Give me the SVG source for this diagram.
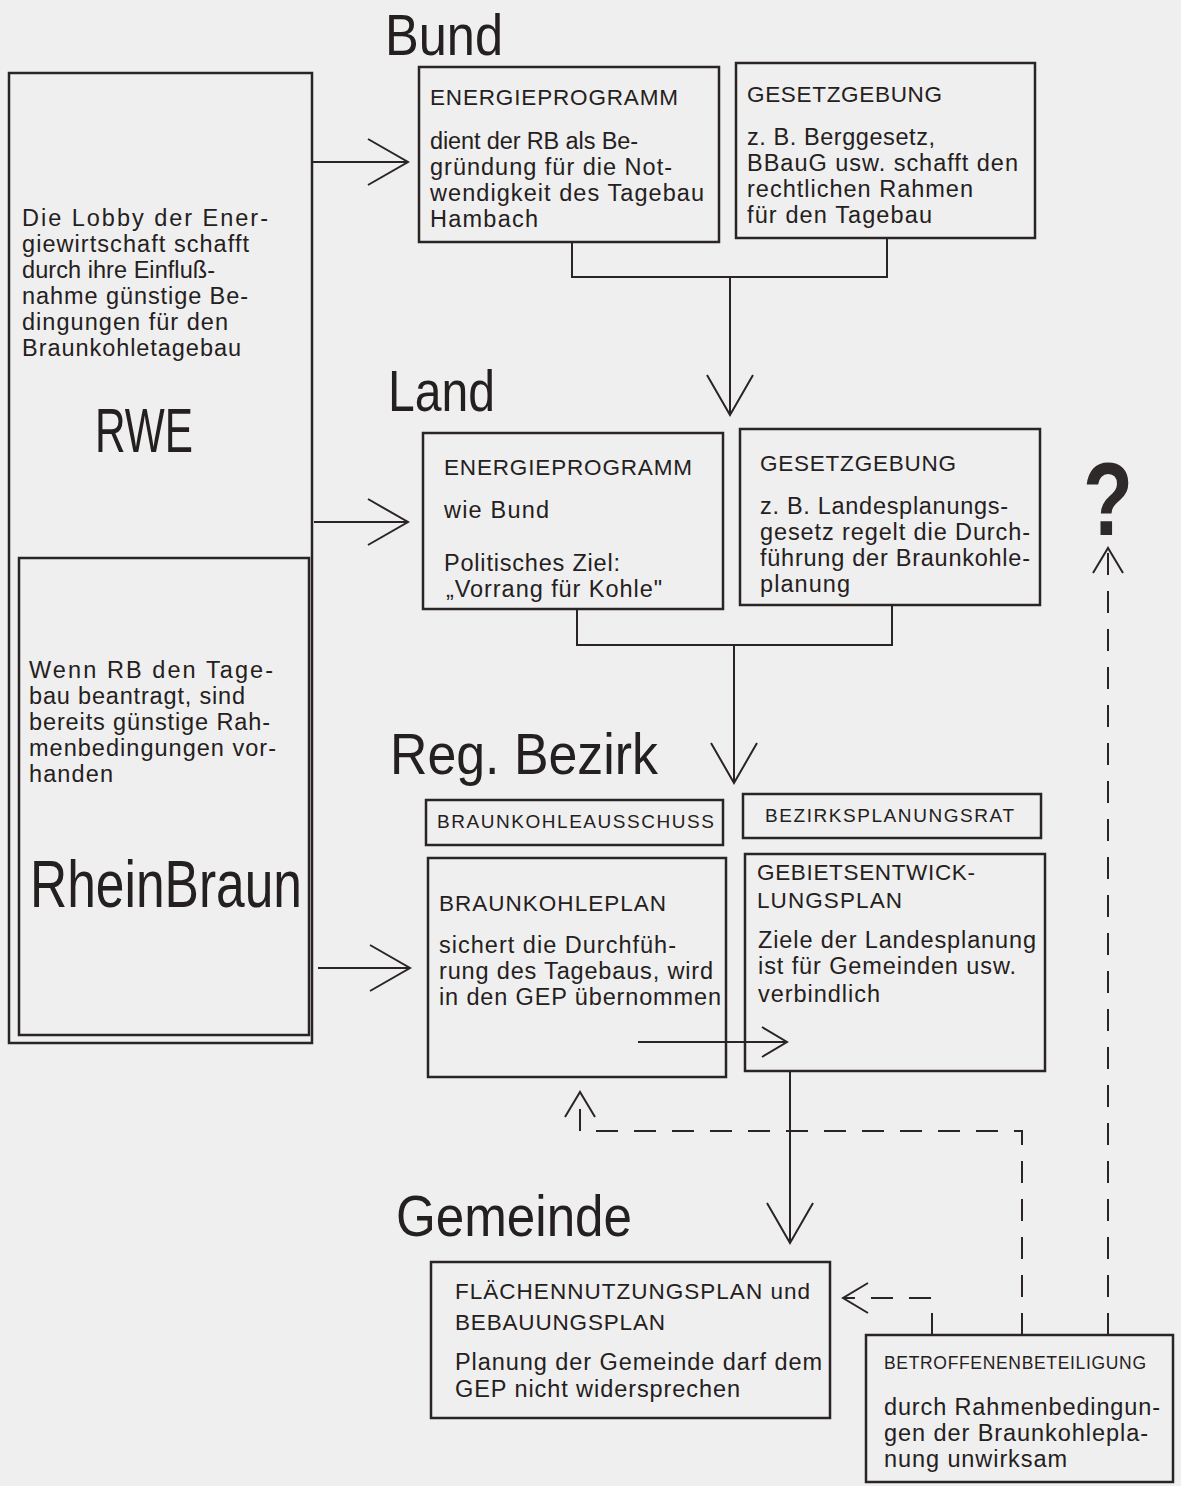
<svg xmlns="http://www.w3.org/2000/svg" width="1181" height="1486" viewBox="0 0 1181 1486">
<style>
.bg{fill:#efefef}
.bx{fill:none;stroke:#2b2424;stroke-width:2.5}
.ln{fill:none;stroke:#2b2424;stroke-width:2}
.dash{stroke-dasharray:22 16}
.t{font-family:"Liberation Sans",Arial,sans-serif;font-size:23.5px;fill:#252020}
.h{font-family:"Liberation Sans",Arial,sans-serif;font-size:22.5px;fill:#252020}
.hs{font-family:"Liberation Sans",Arial,sans-serif;font-size:19px;fill:#252020}
.s{font-family:"Liberation Sans",Arial,sans-serif;font-size:17.5px;fill:#252020}
.ti{font-family:"Liberation Sans",Arial,sans-serif;font-size:58px;fill:#252020}
.big{font-family:"Liberation Sans",Arial,sans-serif;fill:#252020}
.q{font-family:"Liberation Sans",Arial,sans-serif;font-weight:bold;font-size:104px;fill:#2e2a2a}
</style>
<defs>
<marker id="vb" markerUnits="userSpaceOnUse" orient="auto" viewBox="-42 -25 44 50" refX="0" refY="0" markerWidth="44" markerHeight="50">
<path d="M-40,-23 L0,0 L-40,23" fill="none" stroke="#2b2424" stroke-width="2"/>
</marker>
<marker id="vs" markerUnits="userSpaceOnUse" orient="auto" viewBox="-28 -17 30 34" refX="0" refY="0" markerWidth="30" markerHeight="34">
<path d="M-25,-15 L0,0 L-25,15" fill="none" stroke="#2b2424" stroke-width="2"/>
</marker>
</defs>
<rect class="bg" x="0" y="0" width="1181" height="1486"/>

<g id="titles">
<text class="ti" x="385" y="55" textLength="118" lengthAdjust="spacingAndGlyphs">Bund</text>
<text class="ti" x="388" y="411" textLength="107" lengthAdjust="spacingAndGlyphs">Land</text>
<text class="ti" x="390" y="774" textLength="268" lengthAdjust="spacingAndGlyphs">Reg. Bezirk</text>
<text class="ti" x="396" y="1236" textLength="236" lengthAdjust="spacingAndGlyphs">Gemeinde</text>
</g>

<g id="rwe">
<rect class="bx" x="9" y="73" width="303" height="970"/>
<text class="t" x="22" y="226" textLength="246">Die Lobby der Ener-</text>
<text class="t" x="22" y="252" textLength="227">giewirtschaft schafft</text>
<text class="t" x="22" y="278" textLength="193">durch ihre Einfluß-</text>
<text class="t" x="22" y="304" textLength="226">nahme günstige Be-</text>
<text class="t" x="22" y="330" textLength="206">dingungen für den</text>
<text class="t" x="22" y="356" textLength="219">Braunkohletagebau</text>
<text class="big" x="95" y="452" font-size="63" textLength="98" lengthAdjust="spacingAndGlyphs">RWE</text>
</g>

<g id="rheinbraun">
<rect class="bx" x="19" y="558" width="290" height="477"/>
<text class="t" x="29" y="678" textLength="244">Wenn RB den Tage-</text>
<text class="t" x="29" y="704" textLength="216">bau beantragt, sind</text>
<text class="t" x="29" y="730" textLength="241">bereits günstige Rah-</text>
<text class="t" x="29" y="756" textLength="247">menbedingungen vor-</text>
<text class="t" x="29" y="782" textLength="84">handen</text>
<text class="big" x="30" y="907" font-size="66" textLength="272" lengthAdjust="spacingAndGlyphs">RheinBraun</text>
</g>

<g id="bund-energie">
<rect class="bx" x="419" y="67" width="300" height="175"/>
<text class="h" x="430" y="105" textLength="248">ENERGIEPROGRAMM</text>
<text class="t" x="430" y="149" textLength="208">dient der RB als Be-</text>
<text class="t" x="430" y="175" textLength="242">gründung für die Not-</text>
<text class="t" x="430" y="201" textLength="274">wendigkeit des Tagebau</text>
<text class="t" x="430" y="227" textLength="108">Hambach</text>
</g>

<g id="bund-gesetz">
<rect class="bx" x="736" y="63" width="299" height="175"/>
<text class="h" x="747" y="102" textLength="195">GESETZGEBUNG</text>
<text class="t" x="747" y="145" textLength="188">z. B. Berggesetz,</text>
<text class="t" x="747" y="171" textLength="271">BBauG usw. schafft den</text>
<text class="t" x="747" y="197" textLength="226">rechtlichen Rahmen</text>
<text class="t" x="747" y="223" textLength="185">für den Tagebau</text>
</g>

<g id="land-energie">
<rect class="bx" x="423" y="433" width="300" height="176"/>
<text class="h" x="444" y="475" textLength="248">ENERGIEPROGRAMM</text>
<text class="t" x="444" y="518" textLength="105">wie Bund</text>
<text class="t" x="444" y="571" textLength="176">Politisches Ziel:</text>
<text class="t" x="446" y="597" textLength="216">„Vorrang für Kohle"</text>
</g>

<g id="land-gesetz">
<rect class="bx" x="740" y="429" width="300" height="176"/>
<text class="h" x="760" y="471" textLength="196">GESETZGEBUNG</text>
<text class="t" x="760" y="514" textLength="248">z. B. Landesplanungs-</text>
<text class="t" x="760" y="540" textLength="270">gesetz regelt die Durch-</text>
<text class="t" x="760" y="566" textLength="270">führung der Braunkohle-</text>
<text class="t" x="760" y="592" textLength="90">planung</text>
</g>

<g id="braunkohleausschuss">
<rect class="bx" x="426" y="800" width="297" height="45"/>
<text class="hs" x="437" y="828" textLength="277">BRAUNKOHLEAUSSCHUSS</text>
</g>

<g id="bezirksplanungsrat">
<rect class="bx" x="743" y="794" width="298" height="44"/>
<text class="hs" x="765" y="822" textLength="249">BEZIRKSPLANUNGSRAT</text>
</g>

<g id="braunkohleplan">
<rect class="bx" x="428" y="858" width="298" height="219"/>
<text class="h" x="439" y="911" textLength="227">BRAUNKOHLEPLAN</text>
<text class="t" x="439" y="953" textLength="237">sichert die Durchfüh-</text>
<text class="t" x="439" y="979" textLength="274">rung des Tagebaus, wird</text>
<text class="t" x="439" y="1005" textLength="282">in den GEP übernommen</text>
</g>

<g id="gep">
<rect class="bx" x="745" y="854" width="300" height="217"/>
<text class="h" x="757" y="880" textLength="218">GEBIETSENTWICK-</text>
<text class="h" x="757" y="908" textLength="145">LUNGSPLAN</text>
<text class="t" x="758" y="948" textLength="278">Ziele der Landesplanung</text>
<text class="t" x="758" y="974" textLength="258">ist für Gemeinden usw.</text>
<text class="t" x="758" y="1002" textLength="122">verbindlich</text>
</g>

<g id="fnp">
<rect class="bx" x="431" y="1262" width="399" height="156"/>
<text class="h" x="455" y="1299" textLength="355">FLÄCHENNUTZUNGSPLAN und</text>
<text class="h" x="455" y="1330" textLength="210">BEBAUUNGSPLAN</text>
<text class="t" x="455" y="1370" textLength="367">Planung der Gemeinde darf dem</text>
<text class="t" x="455" y="1397" textLength="285">GEP nicht widersprechen</text>
</g>

<g id="betroffene">
<rect class="bx" x="866" y="1335" width="307" height="147"/>
<text class="s" x="884" y="1369" textLength="262">BETROFFENENBETEILIGUNG</text>
<text class="t" x="884" y="1415" textLength="276">durch Rahmenbedingun-</text>
<text class="t" x="884" y="1441" textLength="264">gen der Braunkohlepla-</text>
<text class="t" x="884" y="1467" textLength="183">nung unwirksam</text>
</g>

<g id="question">
<text class="q" x="1083" y="535" textLength="50" lengthAdjust="spacingAndGlyphs">?</text>
</g>

<g id="connectors">
<path class="ln" d="M313,162 H408" marker-end="url(#vb)"/>
<path class="ln" d="M314,522 H408" marker-end="url(#vb)"/>
<path class="ln" d="M318,968 H410" marker-end="url(#vb)"/>
<path class="ln" d="M572,242 V277 H887 V238"/>
<path class="ln" d="M730,277 V415" marker-end="url(#vb)"/>
<path class="ln" d="M577,609 V645 H892 V605"/>
<path class="ln" d="M734,645 V783" marker-end="url(#vb)"/>
<path class="ln" d="M638,1042 H787" marker-end="url(#vs)"/>
<path class="ln" d="M790,1071 V1243" marker-end="url(#vb)"/>
<path class="ln dash" d="M1022,1335 V1131 H580 V1092" marker-end="url(#vs)"/>
<path class="ln dash" d="M932,1335 V1298 H843" marker-end="url(#vs)"/>
<path class="ln dash" d="M1108,1335 V548" marker-end="url(#vs)"/>
</g>
</svg>
